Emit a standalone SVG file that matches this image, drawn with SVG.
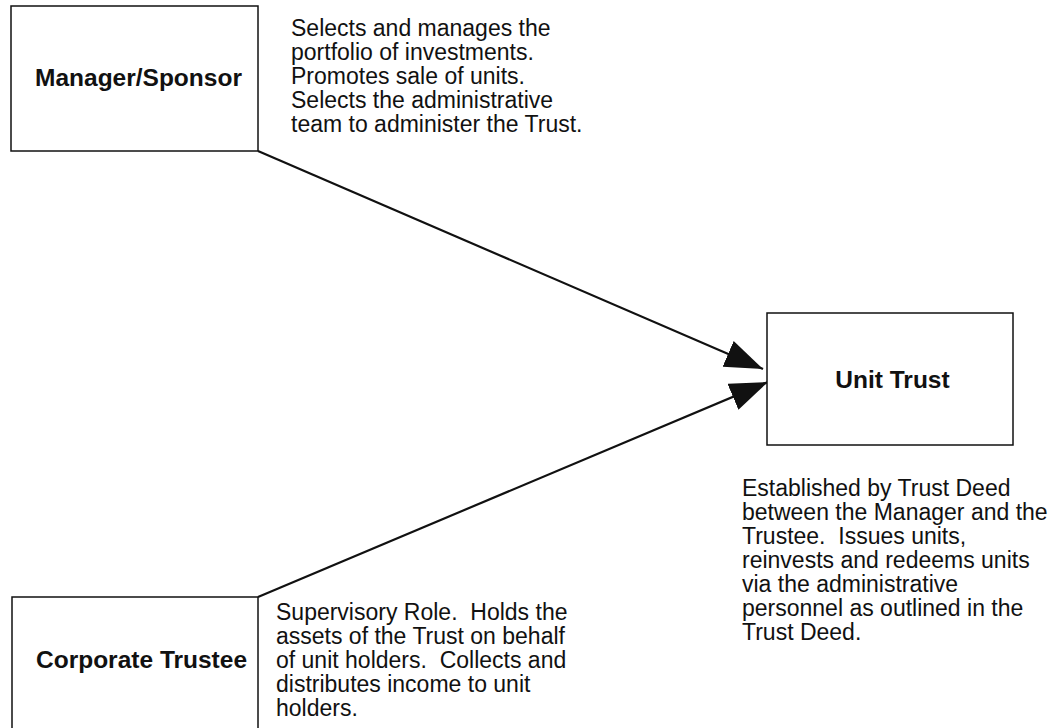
<svg xmlns="http://www.w3.org/2000/svg" width="1055" height="728" viewBox="0 0 1055 728">
  <style>
    .box { fill: #ffffff; stroke: #111111; stroke-width: 1.5; }
    .label { font-family: "Liberation Sans", Arial, sans-serif; font-size: 24.5px; font-weight: bold; fill: #111111; }
    .desc { font-family: "Liberation Sans", Arial, sans-serif; font-size: 23px; fill: #111111; white-space: pre; }
    .conn { stroke: #111111; stroke-width: 2.2; fill: none; }
  </style>
  <defs>
    <marker id="arrow" markerUnits="userSpaceOnUse" markerWidth="40" markerHeight="30" refX="38" refY="14" orient="auto">
      <path d="M0,0 L38,14 L0,28 z" fill="#111111"/>
    </marker>
  </defs>
  <rect width="1055" height="728" fill="#ffffff"/>

  <g id="connectors">
    <line class="conn" x1="258" y1="151" x2="763" y2="369" marker-end="url(#arrow)"/>
    <line class="conn" x1="258" y1="597" x2="768" y2="382" marker-end="url(#arrow)"/>
  </g>

  <g id="manager-sponsor">
    <rect class="box" x="11" y="6" width="247" height="145"/>
    <text class="label" x="35" y="86">Manager/Sponsor</text>
    <text class="desc" x="291" y="36">Selects and manages the</text>
    <text class="desc" x="291" y="60">portfolio of investments.</text>
    <text class="desc" x="291" y="84">Promotes sale of units.</text>
    <text class="desc" x="291" y="108">Selects the administrative</text>
    <text class="desc" x="291" y="132">team to administer the Trust.</text>
  </g>

  <g id="unit-trust">
    <rect class="box" x="767" y="313" width="246" height="132"/>
    <text class="label" x="892.5" y="388" text-anchor="middle">Unit Trust</text>
    <text class="desc" x="742" y="496">Established by Trust Deed</text>
    <text class="desc" x="742" y="520">between the Manager and the</text>
    <text class="desc" x="742" y="544">Trustee.  Issues units,</text>
    <text class="desc" x="742" y="568">reinvests and redeems units</text>
    <text class="desc" x="742" y="592">via the administrative</text>
    <text class="desc" x="742" y="616">personnel as outlined in the</text>
    <text class="desc" x="742" y="640">Trust Deed.</text>
  </g>

  <g id="corporate-trustee">
    <rect class="box" x="12" y="597" width="246" height="140"/>
    <text class="label" x="36" y="668">Corporate Trustee</text>
    <text class="desc" x="276" y="620">Supervisory Role.  Holds the</text>
    <text class="desc" x="276" y="644">assets of the Trust on behalf</text>
    <text class="desc" x="276" y="668">of unit holders.  Collects and</text>
    <text class="desc" x="276" y="692">distributes income to unit</text>
    <text class="desc" x="276" y="716">holders.</text>
  </g>
</svg>
